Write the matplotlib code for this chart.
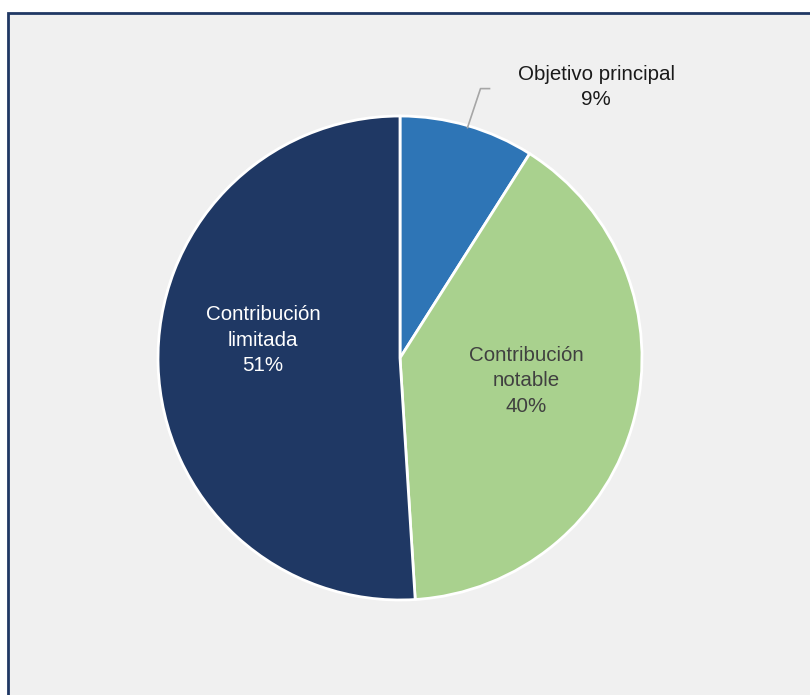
import numpy as np
import matplotlib
matplotlib.use("Agg")
import matplotlib.pyplot as plt
from matplotlib.patches import Rectangle

plt.rcParams['font.family'] = ['Liberation Sans', 'DejaVu Sans']

labels = ['Objetivo principal', 'Contribución\nnotable', 'Contribución\nlimitada']
values = [9, 40, 51]
colors = ['#2e75b6', '#a9d18e', '#1f3864']
text_colors = ['#1a1a1a', '#404040', '#ffffff']

W, H = 810, 695
fig = plt.figure(figsize=(W / 100, H / 100), dpi=100)
fig.patch.set_facecolor('white')

ax = fig.add_axes([0, 0, 1, 1])

cx, cy, r = 400, H - 358, 242
wedges, _ = ax.pie(values, colors=colors, startangle=90, counterclock=False,
                   radius=r, center=(cx, cy), frame=True,
                   wedgeprops=dict(edgecolor='white', linewidth=2))
ax.set_xlim(0, W)
ax.set_ylim(0, H)
ax.set_aspect('equal')
ax.axis('off')

# panel background with dark frame (runs off the right and bottom edges)
ax.add_patch(Rectangle((8, -20), 830, H - 13 + 20, facecolor='#f0f0f0',
                       edgecolor='#203864', linewidth=2, zorder=0))

pct = [f'{v}%' for v in values]
fs = 14.8
ls = 1.42

# small slice: label outside with a leader line
w0 = wedges[0]
mid = np.radians((w0.theta1 + w0.theta2) / 2)
x0, y0 = cx + r * np.cos(mid), cy + r * np.sin(mid)
ax.plot([x0, x0 + 13, x0 + 22], [y0 - 2, y0 + 37, y0 + 37], color='#a6a6a6', lw=1.2, zorder=3)
ax.text(596, H - 87, f'{labels[0]}\n{pct[0]}', ha='center', va='center',
        fontsize=fs, color=text_colors[0], linespacing=ls)

# large slices: labels inside
ax.text(526, H - 381, f'{labels[1]}\n{pct[1]}', ha='center', va='center',
        fontsize=fs, color=text_colors[1], linespacing=ls)
ax.text(263, H - 340, f'{labels[2]}\n{pct[2]}', ha='center', va='center',
        fontsize=fs, color=text_colors[2], linespacing=ls)

fig.savefig('out.png', dpi=100, facecolor=fig.get_facecolor())
